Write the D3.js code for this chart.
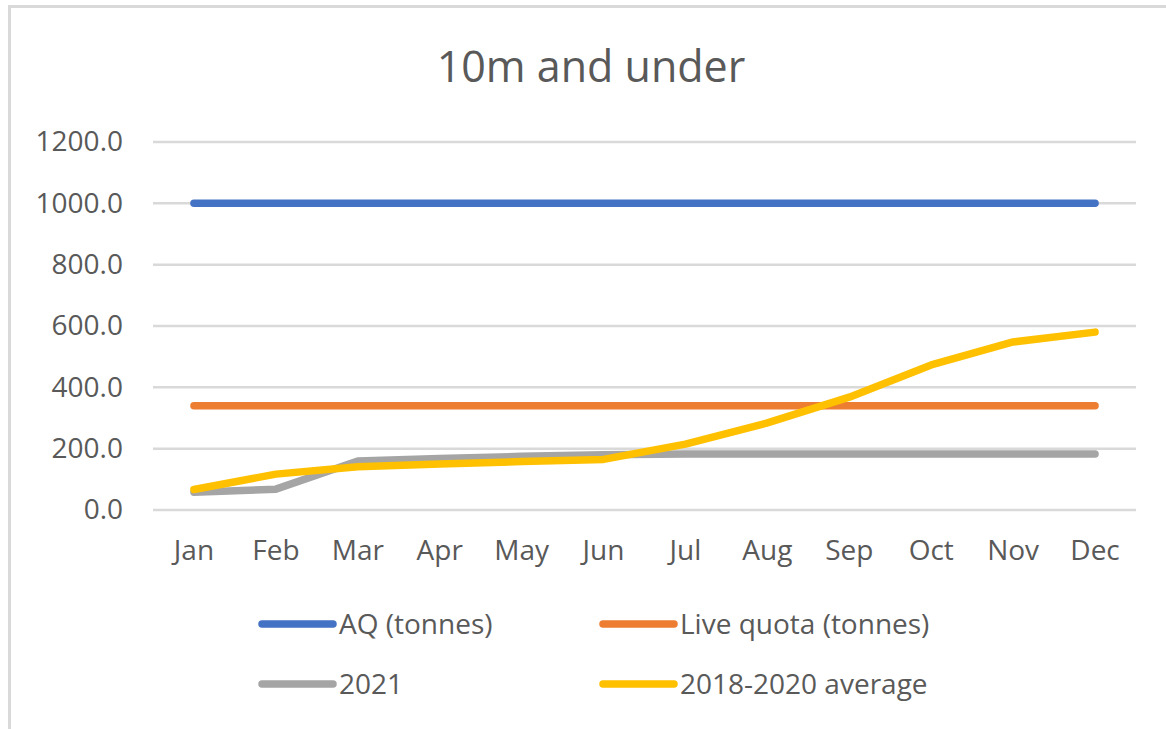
<!DOCTYPE html>
<html>
<head>
<meta charset="utf-8">
<script src="https://cdn.jsdelivr.net/npm/d3@7"></script>
<style>
  body { margin: 0; background: #fff; }
  text { font-family: "Open Sans", "Noto Sans", sans-serif; fill: #595959; }
</style>
</head>
<body>
<svg id="chart" width="1166" height="729"></svg>
<script>
'use strict'

const months = ['Jan','Feb','Mar','Apr','May','Jun','Jul','Aug','Sep','Oct','Nov','Dec']
const yTicks = [0, 200, 400, 600, 800, 1000, 1200]
const seriesNames = ['AQ (tonnes)', 'Live quota (tonnes)', '2021', '2018-2020 average']
const aq = [1000,1000,1000,1000,1000,1000,1000,1000,1000,1000,1000,1000]
const liveQuota = [340,340,340,340,340,340,340,340,340,340,340,340]
const y2021 = [58,68,160,168,175,180,183,183,183,183,183,183]
const avg1820 = [67,117,141,150,158,165,215,284,368,473,548,580]
const colors = ['#4472C4', '#ED7D31', '#A5A5A5', '#FFC000']

function wrapper(){
	let svg = d3.select('#chart')

	// chart area border (runs off the right / bottom of the shot)
	svg.append('rect')
		.attr('x', 9.5).attr('y', 6.5)
		.attr('width', 1200).attr('height', 800)
		.attr('fill', 'none')
		.attr('stroke', '#d9d9d9')
		.attr('stroke-width', 3)

	svg.append('text')
		.attr('x', 591).attr('y', 82)
		.attr('text-anchor', 'middle')
		.style('font-size', '43px')
		.text('10m and under')

	let x = d3.scaleBand().domain(months).range([153, 1136])
	let y = d3.scaleLinear().domain([0, 1200]).range([510, 142])

	// gridlines
	svg.append('g')
		.selectAll('line')
		.data(yTicks)
		.join('line')
		.attr('x1', 153).attr('x2', 1136)
		.attr('y1', d => y(d)).attr('y2', d => y(d))
		.attr('stroke', '#d9d9d9')
		.attr('stroke-width', 2.5)

	let yAxis = d3.axisLeft(y).tickValues(yTicks).tickFormat(d3.format('.1f')).tickSize(0).tickPadding(30)
	let gy = svg.append('g').attr('transform', 'translate(153,0)').call(yAxis)
	gy.select('.domain').remove()
	gy.selectAll('text').style('font-size', '28px').attr('fill', '#595959').attr('dy', '0.32em')

	let xAxis = d3.axisBottom(x).tickSize(0).tickPadding(30)
	let gx = svg.append('g').attr('transform', 'translate(0,510)').call(xAxis)
	gx.select('.domain').remove()
	gx.selectAll('text').style('font-size', '28px').attr('fill', '#595959')

	let line = d3.line()
		.x((d, i) => x(months[i]) + x.bandwidth() / 2)
		.y(d => y(d))

	let allSeries = [aq, liveQuota, y2021, avg1820]
	svg.append('g')
		.selectAll('path')
		.data(allSeries)
		.join('path')
		.attr('d', line)
		.attr('fill', 'none')
		.attr('stroke', (d, i) => colors[i])
		.attr('stroke-width', 7.5)
		.attr('stroke-linecap', 'round')
		.attr('stroke-linejoin', 'round')

	// legend, two columns
	let legendPos = [[262, 624], [603, 624], [262, 684], [603, 684]]
	let lg = svg.append('g')
		.selectAll('g')
		.data(seriesNames)
		.join('g')
		.attr('transform', (d, i) => `translate(${legendPos[i][0]},${legendPos[i][1]})`)
	lg.append('line')
		.attr('x1', 0).attr('x2', 71)
		.attr('stroke', (d, i) => colors[i])
		.attr('stroke-width', 7.5)
		.attr('stroke-linecap', 'round')
	lg.append('text')
		.attr('x', 77).attr('dy', '0.36em')
		.style('font-size', '28px')
		.text(d => d)
}

wrapper()
</script>
</body>
</html>
